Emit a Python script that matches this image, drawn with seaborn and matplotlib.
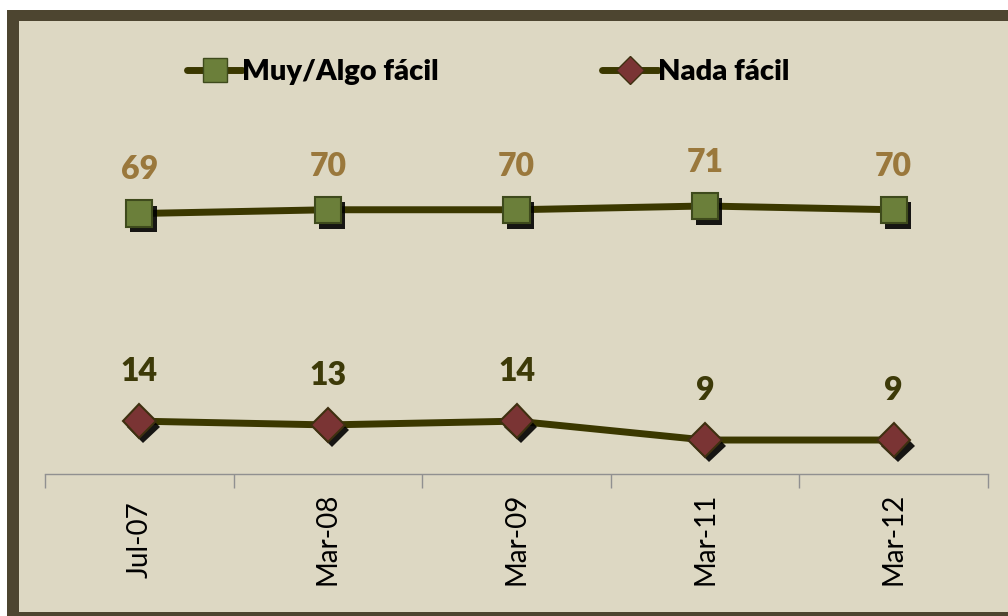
import pandas as pd
import matplotlib.pyplot as plt
import matplotlib.patheffects as pe
from matplotlib.lines import Line2D
from matplotlib.patches import Rectangle
import seaborn as sns

# data
periods = ['Jul-07', 'Mar-08', 'Mar-09', 'Mar-11', 'Mar-12']
muy_algo = [69, 70, 70, 71, 70]
nada = [14, 13, 14, 9, 9]
series_names = ['Muy/Algo fácil', 'Nada fácil']

bg = '#ddd8c3'
frame = '#4d4530'
line_col = '#3b3800'
green = '#6b7f3a'
red = '#7a3434'

sns.set_style('white')
plt.rcParams['font.family'] = ['Lato', 'DejaVu Sans']

fig = plt.figure(figsize=(10.08, 6.16), dpi=100)
fig.patch.set_facecolor('white')
# dark outer frame and beige panel
fig.patches.append(Rectangle((7 / 1008, 0), 1.0, (616 - 10) / 616, transform=fig.transFigure,
                             facecolor=frame, edgecolor='none', zorder=-2))
fig.patches.append(Rectangle((19 / 1008, 4 / 616), 1.0, (616 - 21 - 4) / 616, transform=fig.transFigure,
                             facecolor=bg, edgecolor='none', zorder=-1))

ax = fig.add_axes([45 / 1008, (616 - 474) / 616, (988 - 45) / 1008, (474 - 172) / 616])
ax.set_facecolor('none')

df = pd.DataFrame({'periodo': periods * 2,
                   'valor': muy_algo + nada,
                   'serie': [series_names[0]] * 5 + [series_names[1]] * 5})

sns.lineplot(data=df, x='periodo', y='valor', hue='serie', palette=[line_col, line_col],
             linewidth=5, legend=False, ax=ax, sort=False)

shadow = [pe.SimplePatchShadow(offset=(3, -4), shadow_rgbFace='black', alpha=0.9), pe.Normal()]
ax.plot(periods, muy_algo, linestyle='none', marker='s', markersize=19, markerfacecolor=green,
        markeredgecolor='#3e4a1c', markeredgewidth=1.5, path_effects=shadow, clip_on=False, zorder=5)
ax.plot(periods, nada, linestyle='none', marker='D', markersize=17, markerfacecolor=red,
        markeredgecolor='#3e3010', markeredgewidth=1.5, path_effects=shadow, clip_on=False, zorder=5)

for i, v in enumerate(muy_algo):
    ax.annotate(str(v), (i, v), xytext=(0, 21), textcoords='offset points', ha='center', va='bottom',
                fontsize=23, fontweight='heavy', color='#9a783c', annotation_clip=False)
for i, v in enumerate(nada):
    ax.annotate(str(v), (i, v), xytext=(0, 25), textcoords='offset points', ha='center', va='bottom',
                fontsize=23, fontweight='heavy', color='#3d3a08', annotation_clip=False)

ax.set_xlim(-0.5, 4.5)
ax.set_ylim(0, 80)
ax.set_yticks([])
ax.set_xlabel('')
ax.set_ylabel('')
for s in ['top', 'right', 'left']:
    ax.spines[s].set_visible(False)
ax.spines['bottom'].set_color('#909090')
ax.spines['bottom'].set_linewidth(1)
ax.set_xticks(range(len(periods)))
ax.set_xticklabels(periods, rotation=90, fontsize=20, color='black', va='center')
ax.set_xticks([i - 0.5 for i in range(len(periods) + 1)], minor=True)
ax.tick_params(axis='x', which='major', bottom=True, length=0, pad=47)
ax.tick_params(axis='x', which='minor', bottom=True, length=10, color='#909090', width=1)

handles = [
    Line2D([], [], color=line_col, linewidth=5, marker='s', markersize=17, markerfacecolor=green,
           markeredgecolor='#3e4a1c', solid_capstyle='round'),
    Line2D([], [], color=line_col, linewidth=5, marker='D', markersize=14, markerfacecolor=red,
           markeredgecolor='#3e3010', solid_capstyle='round'),
]
leg = fig.legend(handles, series_names, loc='center', bbox_to_anchor=(488 / 1008, (616 - 72) / 616),
                 ncol=2, frameon=False, handlelength=1.9, handletextpad=0.0, columnspacing=5.6,
                 prop={'size': 21, 'weight': 'heavy'}, labelcolor='black')

fig.savefig('out.png', dpi=100, facecolor=fig.get_facecolor())
